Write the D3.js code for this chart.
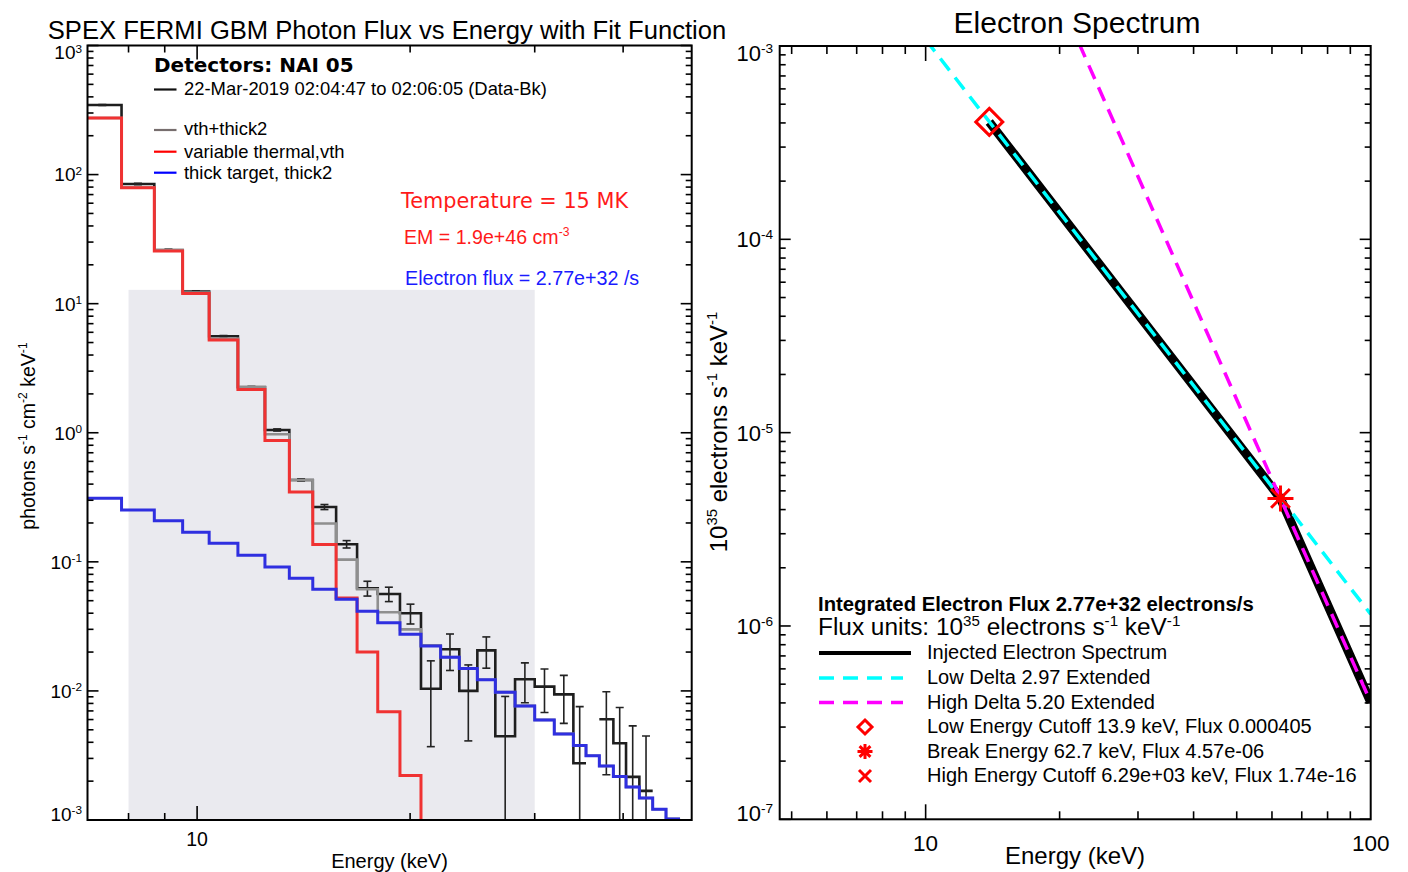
<!DOCTYPE html>
<html><head><meta charset="utf-8">
<script src="https://cdn.jsdelivr.net/npm/d3@7"></script>
<style>
body{margin:0;background:#fff;}
svg{display:block;font-family:"Liberation Sans",Arial,Helvetica,sans-serif;}
</style>
</head><body>
<svg id="c" width="1408" height="872"></svg>
<script>
// ---------------- LEFT PANEL DATA (photon spectrum) ----------------
const binEdges = [6.9, 7.82, 8.70, 9.54, 10.40, 11.42, 12.47, 13.50, 14.57, 15.72, 16.83, 18.00, 19.35, 20.72,
  22.09, 23.47, 24.89, 26.39, 28.14, 30.00, 31.97, 34.02, 35.45, 37.02, 38.75, 40.38, 42.17, 44.04, 45.99, 48.14];
const dataFlux = [346, 84.6, 26.0, 12.4, 5.59, 2.25, 1.051, 0.431, 0.266, 0.137, 0.0625, 0.0564, 0.0400, 0.0104,
  0.0210, 0.0100, 0.0206, 0.00446, 0.0123, 0.0108, 0.0094, 0.00275, null, 0.00604, 0.00393, 0.00216, 0.00168, null, null];
const dataErr = [3, 1, 0.4, 0.2, 0.08, 0.04, 0.02, 0.008, 0.012, 0.009, 0.0082, 0.0072, 0.0070, 0.0067,
  0.0066, 0.0059, 0.0056, 0.0046, 0.0042, 0.0040, 0.0038, 0.0048, null, 0.0038, 0.0035, 0.0032, 0.0028, null, null];
const modelTotal = [274.7, 79.4, 25.9, 12.2, 5.37, 2.27, 0.973, 0.431, 0.198, 0.104, 0.0614, 0.0407, 0.0300, 0.0226,
  0.0183, 0.0149, 0.0122, 0.00978, 0.00766, 0.00597, 0.00465, 0.00377, 0.00315, 0.00262, 0.00217, 0.00180, 0.00148, 0.00121, 0.00102];
const modelThermal = [274.4, 79.1, 25.6, 12.0, 5.23, 2.16, 0.869, 0.348, 0.136, 0.0525, 0.0200, 0.00691, 0.00221, 0.0003,
  null, null, null, null, null, null, null, null, null, null, null, null, null, null, null];
const modelThick = [0.311, 0.252, 0.2085, 0.1694, 0.1393, 0.1124, 0.0913, 0.0746, 0.0614, 0.0513, 0.0414, 0.0338, 0.0275, 0.0223,
  0.0182, 0.0149, 0.0122, 0.00977, 0.00765, 0.00596, 0.00464, 0.00377, 0.00315, 0.00262, 0.00217, 0.00180, 0.00148, 0.00121, 0.00102];
const fitRange = [8, 30];
const fitRangeTop = 12.8;
const leftXDomain = [7, 50];
const leftYDomain = [1e-3, 1e3];
const leftXTickLabels = [10];
const leftLegend = [
  {label: "22-Mar-2019 02:04:47 to 02:06:05 (Data-Bk)", color: "#111"},
  {label: "vth+thick2", color: "#776e6e"},
  {label: "variable thermal,vth", color: "#ff0000"},
  {label: "thick target, thick2", color: "#0000ff"}
];

// ---------------- RIGHT PANEL DATA (electron spectrum) ----------------
const injEnergy = [13.9, 62.7, 100];
const injFlux = [4.05e-4, 4.57e-6, 4.03e-7];
const lowDeltaEnergy = [10, 100];
const lowDeltaFlux = [1.08e-3, 1.15e-6];
const highDeltaEnergy = [20, 100];
const highDeltaFlux = [1.74e-3, 4.03e-7];
const markerEnergy = [13.9, 62.7, 6290];
const markerFlux = [4.05e-4, 4.57e-6, 1.74e-16];
const markerType = ["diamond", "star", "x"];
const rightXDomain = [4.7, 100];
const rightYDomain = [1e-7, 1e-3];
const rightXTickLabels = [10, 100];
const rightLegendLines = [
  {label: "Injected Electron Spectrum", color: "#000", dash: null, w: 4},
  {label: "Low Delta 2.97 Extended", color: "#00ffff", dash: "15,9", w: 3.5},
  {label: "High Delta 5.20 Extended", color: "#ff00ff", dash: "15,9", w: 3.5}
];
const rightLegendMarkers = [
  {label: "Low Energy Cutoff 13.9 keV, Flux 0.000405", type: "diamond"},
  {label: "Break Energy 62.7 keV, Flux 4.57e-06", type: "star"},
  {label: "High Energy Cutoff 6.29e+03 keV, Flux 1.74e-16", type: "x"}
];

// ---------------- DRAWING ----------------
const svg = d3.select("#c");
svg.append("rect").attr("width", 1408).attr("height", 872).attr("fill", "#fff");

function rich(sel, parts, fs, raise) {
  let up = false;
  const sh = fs * (raise || 0.42);
  parts.forEach(p => {
    const ts = sel.append("tspan").text(p[0]);
    if (p[1]) { ts.attr("font-size", fs * 0.62).attr("dy", up ? 0 : -sh); up = true; }
    else { ts.attr("dy", up ? sh : 0); up = false; }
  });
  return sel;
}
const isMajor = t => Math.abs(Math.log10(t) - Math.round(Math.log10(t))) < 1e-6;

function frameAndTicks(g, x, y, opt) {
  const [x0, x1] = x.range(), [y0, y1] = y.range(); // y0 bottom, y1 top
  x.ticks().forEach(t => {
    const px = x(t);
    if (px < x0 + 0.5 || px > x1 - 0.5) return;
    const L = isMajor(t) ? opt.xMaj : opt.xMin;
    g.append("line").attr("x1", px).attr("x2", px).attr("y1", y0).attr("y2", y0 - L).attr("stroke", "#000").attr("stroke-width", 1.6);
    g.append("line").attr("x1", px).attr("x2", px).attr("y1", y1).attr("y2", y1 + L).attr("stroke", "#000").attr("stroke-width", 1.6);
  });
  y.ticks().forEach(t => {
    const py = y(t);
    const L = isMajor(t) ? opt.yMaj : opt.yMin;
    g.append("line").attr("x1", x0).attr("x2", x0 + L).attr("y1", py).attr("y2", py).attr("stroke", "#000").attr("stroke-width", 1.6);
    g.append("line").attr("x1", x1).attr("x2", x1 - L).attr("y1", py).attr("y2", py).attr("stroke", "#000").attr("stroke-width", 1.6);
  });
  g.append("rect").attr("x", x0).attr("y", y1).attr("width", x1 - x0).attr("height", y0 - y1)
    .attr("fill", "none").attr("stroke", "#000").attr("stroke-width", 2);
  // y labels
  y.ticks().filter(isMajor).forEach(t => {
    const e = Math.round(Math.log10(t));
    let py = Math.min(Math.max(y(t), y1 + 7), y0 - 6);
    const tx = g.append("text").attr("x", opt.yLabX).attr("y", py + opt.yFs * 0.36)
      .attr("text-anchor", "end").attr("font-size", opt.yFs).attr("fill", "#000");
    rich(tx, [["10", false], [String(e), true]], opt.yFs, 0.36);
  });
  opt.xLabels.forEach(t => {
    g.append("text").attr("x", x(t)).attr("y", opt.xLabY).attr("text-anchor", "middle")
      .attr("font-size", opt.xFs).text(String(t));
  });
}

// ======== LEFT PANEL ========
const xL = d3.scaleLog().domain(leftXDomain).range([87.5, 691.7]);
const yL = d3.scaleLog().domain(leftYDomain).range([820, 45.5]);
const gL = svg.append("g");
svg.append("clipPath").attr("id", "clipL").append("rect")
  .attr("x", 87.5).attr("y", 45.5).attr("width", 691.7 - 87.5).attr("height", 820 - 45.5);
const pL = gL.append("g").attr("clip-path", "url(#clipL)");

pL.append("rect").attr("x", xL(fitRange[0])).attr("y", yL(fitRangeTop))
  .attr("width", xL(fitRange[1]) - xL(fitRange[0])).attr("height", 820 - yL(fitRangeTop))
  .attr("fill", "#eaeaef");

function stepPoints(vals) {
  const pts = [];
  vals.forEach((v, i) => {
    pts.push({e: binEdges[i], v: v});
    pts.push({e: binEdges[i + 1], v: v});
  });
  return pts;
}
const stepLine = d3.line().defined(d => d.v != null && d.v > 0)
  .x(d => xL(d.e)).y(d => yL(d.v));

// data (black)
pL.append("path").attr("d", stepLine(stepPoints(dataFlux))).attr("fill", "none")
  .attr("stroke", "#1e1e1e").attr("stroke-width", 2.6).attr("stroke-linejoin", "miter");
// error bars
dataFlux.forEach((v, i) => {
  if (v == null || dataErr[i] == null) return;
  const xc = xL(Math.sqrt(binEdges[i] * binEdges[i + 1]));
  const hi = v + dataErr[i];
  const lo = v - dataErr[i];
  const yHi = yL(hi), yLo = lo > 0 ? yL(lo) : 900;
  pL.append("line").attr("x1", xc).attr("x2", xc).attr("y1", yHi).attr("y2", yLo)
    .attr("stroke", "#222").attr("stroke-width", 1.6);
  pL.append("line").attr("x1", xc - 4).attr("x2", xc + 4).attr("y1", yHi).attr("y2", yHi)
    .attr("stroke", "#222").attr("stroke-width", 1.6);
  if (lo > 0) pL.append("line").attr("x1", xc - 4).attr("x2", xc + 4).attr("y1", yLo).attr("y2", yLo)
    .attr("stroke", "#222").attr("stroke-width", 1.6);
});
// model total (gray)
pL.append("path").attr("d", stepLine(stepPoints(modelTotal))).attr("fill", "none")
  .attr("stroke", "#8f8f8f").attr("stroke-width", 2.6);
// thermal (red)
pL.append("path").attr("d", stepLine(stepPoints(modelThermal))).attr("fill", "none")
  .attr("stroke", "#f03232").attr("stroke-width", 3);
// thick target (blue)
pL.append("path").attr("d", stepLine(stepPoints(modelThick))).attr("fill", "none")
  .attr("stroke", "#2f2fe0").attr("stroke-width", 3);

frameAndTicks(gL, xL, yL, {xMaj: 14, xMin: 7, yMaj: 11, yMin: 6, yLabX: 82, yFs: 19,
  xLabels: leftXTickLabels, xLabY: 846, xFs: 19.5});

// left title & axis titles
svg.append("text").attr("x", 387).attr("y", 38.5).attr("text-anchor", "middle")
  .attr("font-size", 25.6).text("SPEX FERMI GBM Photon Flux vs Energy with Fit Function");
svg.append("text").attr("x", 389.5).attr("y", 868).attr("text-anchor", "middle")
  .attr("font-size", 20).text("Energy (keV)");
rich(svg.append("text").attr("transform", "translate(35,436) rotate(-90)").attr("text-anchor", "middle")
  .attr("font-size", 19.5),
  [["photons s", false], ["-1", true], [" cm", false], ["-2", true], [" keV", false], ["-1", true]], 19.5);

// left legend
svg.append("text").attr("x", 154).attr("y", 71.5).attr("font-family", "DejaVu Sans")
  .attr("font-weight", "bold").attr("font-size", 20).text("Detectors: NAI 05");
const legY = [95, 135, 158, 178.5];
const legLineY = [89.5, 130, 151.7, 172.7];
leftLegend.forEach((d, i) => {
  svg.append("line").attr("x1", 154).attr("x2", 176.5).attr("y1", legLineY[i]).attr("y2", legLineY[i])
    .attr("stroke", d.color).attr("stroke-width", 2.2);
  svg.append("text").attr("x", 184).attr("y", legY[i]).attr("font-size", 18.4).text(d.label);
});
svg.append("text").attr("x", 401).attr("y", 208).attr("font-family", "DejaVu Sans")
  .attr("font-size", 20.8).attr("fill", "#ff1a1a").text("Temperature = 15 MK");
rich(svg.append("text").attr("x", 404).attr("y", 244).attr("font-size", 19.6).attr("fill", "#ff1a1a"),
  [["EM = 1.9e+46 cm", false], ["-3", true]], 19.6);
svg.append("text").attr("x", 405).attr("y", 285).attr("font-size", 19.7).attr("fill", "#1a1aff")
  .text("Electron flux = 2.77e+32 /s");

// ======== RIGHT PANEL ========
const xR = d3.scaleLog().domain(rightXDomain).range([779.7, 1370.7]);
const yR = d3.scaleLog().domain(rightYDomain).range([819.3, 46]);
const gR = svg.append("g");
svg.append("clipPath").attr("id", "clipR").append("rect")
  .attr("x", 779.7).attr("y", 46).attr("width", 1370.7 - 779.7).attr("height", 819.3 - 46);
const pR = gR.append("g").attr("clip-path", "url(#clipR)");
const lineR = d3.line().x(d => xR(d[0])).y(d => yR(d[1]));

pR.append("path").attr("d", lineR(injEnergy.map((e, i) => [e, injFlux[i]])))
  .attr("fill", "none").attr("stroke", "#000").attr("stroke-width", 9).attr("stroke-linejoin", "round");
pR.append("path").attr("d", lineR(lowDeltaEnergy.map((e, i) => [e, lowDeltaFlux[i]])))
  .attr("fill", "none").attr("stroke", "#00ffff").attr("stroke-width", 3.5).attr("stroke-dasharray", "15,9");
pR.append("path").attr("d", lineR(highDeltaEnergy.map((e, i) => [e, highDeltaFlux[i]])))
  .attr("fill", "none").attr("stroke", "#ff00ff").attr("stroke-width", 3.5).attr("stroke-dasharray", "15,9");

function marker(g, type, cx, cy, r, sw) {
  let d;
  if (type === "diamond") d = `M${cx},${cy - r}L${cx + r},${cy}L${cx},${cy + r}L${cx - r},${cy}Z`;
  else if (type === "star") {
    const a = r * 0.72;
    d = `M${cx - r},${cy}L${cx + r},${cy}M${cx},${cy - r}L${cx},${cy + r}M${cx - a},${cy - a}L${cx + a},${cy + a}M${cx - a},${cy + a}L${cx + a},${cy - a}`;
  } else {
    const a = r * 0.8;
    d = `M${cx - a},${cy - a}L${cx + a},${cy + a}M${cx - a},${cy + a}L${cx + a},${cy - a}`;
  }
  g.append("path").attr("d", d).attr("fill", "none").attr("stroke", "#ff0000").attr("stroke-width", sw);
}
markerEnergy.forEach((e, i) => {
  marker(pR, markerType[i], xR(e), yR(markerFlux[i]), markerType[i] === "diamond" ? 13.5 : 13, 3);
});

frameAndTicks(gR, xR, yR, {xMaj: 15, xMin: 8, yMaj: 11, yMin: 6, yLabX: 773, yFs: 22,
  xLabels: rightXTickLabels, xLabY: 851, xFs: 22.5});

svg.append("text").attr("x", 1077).attr("y", 33.3).attr("text-anchor", "middle")
  .attr("font-size", 30).text("Electron Spectrum");
svg.append("text").attr("x", 1075).attr("y", 864).attr("text-anchor", "middle")
  .attr("font-size", 24).text("Energy (keV)");
rich(svg.append("text").attr("transform", "translate(727,432) rotate(-90)").attr("text-anchor", "middle")
  .attr("font-size", 24),
  [["10", false], ["35", true], [" electrons s", false], ["-1", true], [" keV", false], ["-1", true]], 24);

// right legend
svg.append("text").attr("x", 818).attr("y", 610.5).attr("font-weight", "bold").attr("font-size", 20.3)
  .text("Integrated Electron Flux 2.77e+32 electrons/s");
rich(svg.append("text").attr("x", 818).attr("y", 635).attr("font-size", 24.4),
  [["Flux units: 10", false], ["35", true], [" electrons s", false], ["-1", true], [" keV", false], ["-1", true]], 24.4, 0.36);
const rlY = [659, 684, 708.5, 733, 757.5, 782];
rightLegendLines.forEach((d, i) => {
  const ly = rlY[i] - 6;
  svg.append("line").attr("x1", 819).attr("x2", d.dash ? 903 : 911).attr("y1", ly).attr("y2", ly)
    .attr("stroke", d.color).attr("stroke-width", d.w).attr("stroke-dasharray", d.dash);
  svg.append("text").attr("x", 927).attr("y", rlY[i]).attr("font-size", 20).text(d.label);
});
rightLegendMarkers.forEach((d, i) => {
  const ly = rlY[i + 3] - 6;
  marker(svg, d.type, 865, ly, d.type === "diamond" ? 7 : 7.5, 3);
  svg.append("text").attr("x", 927).attr("y", rlY[i + 3]).attr("font-size", 20).text(d.label);
});
</script>
</body></html>
